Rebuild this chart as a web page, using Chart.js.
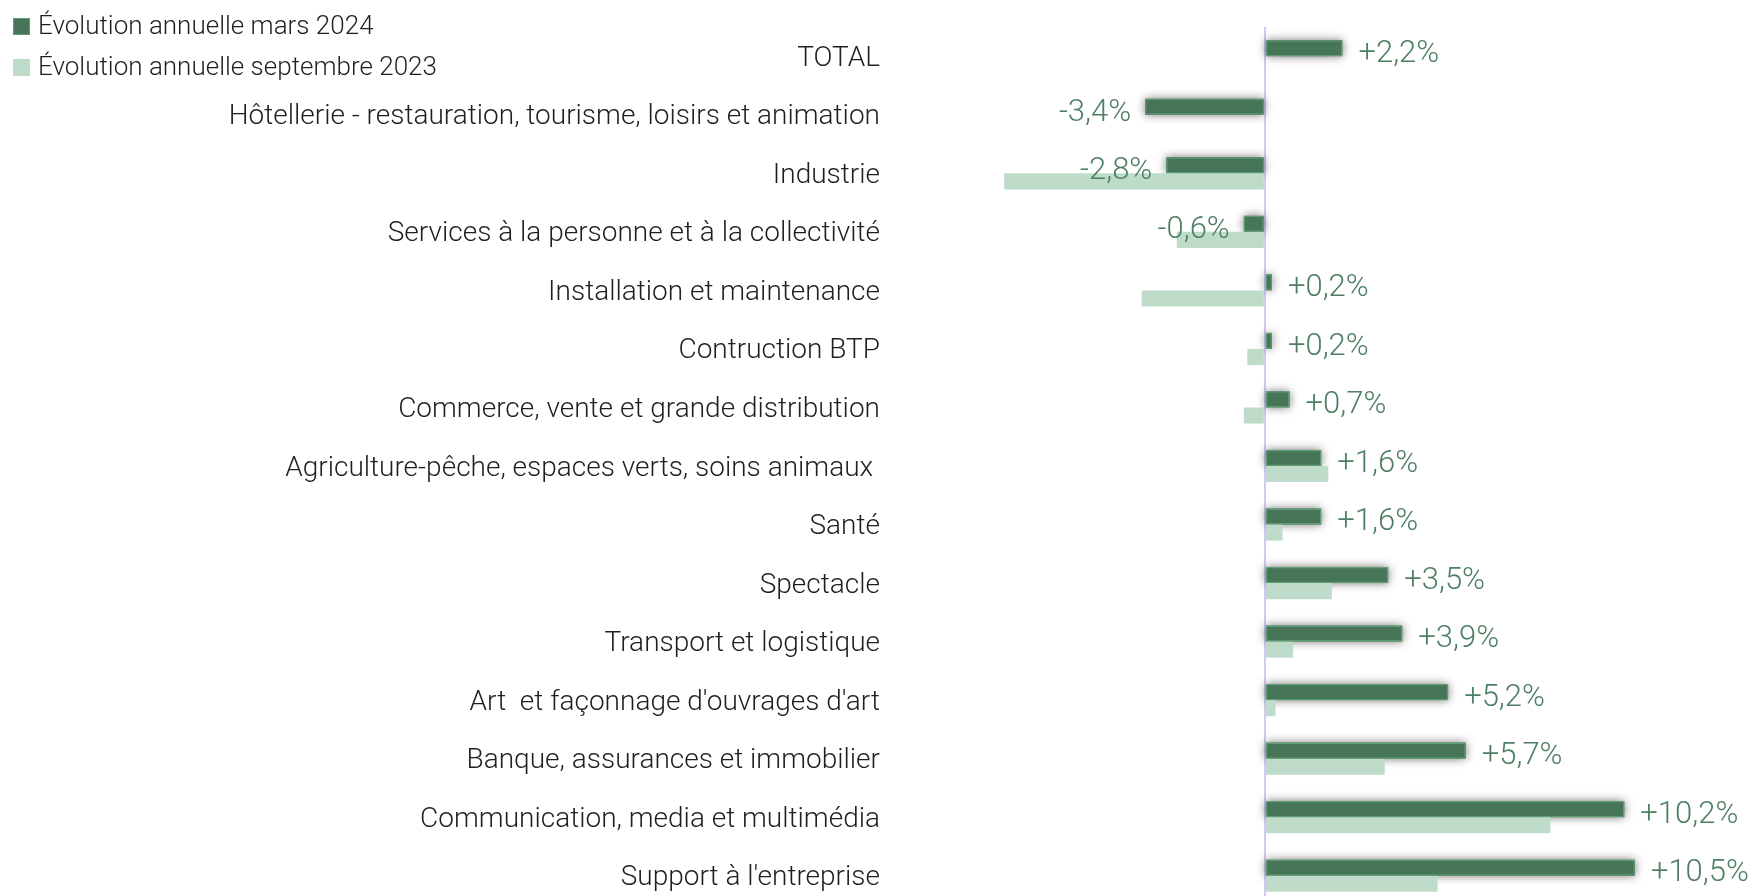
<!DOCTYPE html>
<html><head><meta charset="utf-8">
<script src="https://cdn.jsdelivr.net/npm/chart.js@4.4.1/dist/chart.umd.min.js"></script>
<style>
html,body{margin:0;padding:0;background:#fff;overflow:hidden;width:1752px;height:896px}
#wrap{position:relative;width:1752px;height:905px}
canvas{display:block}
.lg{position:absolute;left:13px;font-family:Roboto,sans-serif;font-weight:300;font-size:26px;color:#1f1f1f;line-height:30px;white-space:nowrap}
.lg span{display:inline-block;width:17px;height:17px;margin-right:8px;vertical-align:-1px;box-sizing:border-box}
</style></head><body>
<div id="wrap"><canvas id="c" width="1752" height="905"></canvas>
<div class="lg" id="lg1" style="top:10px"><span style="background:#467558;border:1.5px solid #5e9c74"></span>Évolution annuelle mars 2024</div>
<div class="lg" id="lg2" style="top:51px"><span style="background:#bfdccb"></span>Évolution annuelle septembre 2023</div>
</div>
<script>
const categories = [
  "TOTAL",
  "Hôtellerie - restauration, tourisme, loisirs et animation",
  "Industrie",
  "Services à la personne et à la collectivité",
  "Installation et maintenance",
  "Contruction BTP",
  "Commerce, vente et grande distribution",
  "Agriculture-pêche, espaces verts, soins animaux ",
  "Santé",
  "Spectacle",
  "Transport et logistique",
  "Art  et façonnage d'ouvrages d'art",
  "Banque, assurances et immobilier",
  "Communication, media et multimédia",
  "Support à l'entreprise"
];
const seriesNames = ["Évolution annuelle mars 2024", "Évolution annuelle septembre 2023"];
const mars2024 = [2.2, -3.4, -2.8, -0.6, 0.2, 0.2, 0.7, 1.6, 1.6, 3.5, 3.9, 5.2, 5.7, 10.2, 10.5];
const sept2023 = [null, null, -7.4, -2.5, -3.5, -0.5, -0.6, 1.8, 0.5, 1.9, 0.8, 0.3, 3.4, 8.1, 4.9];

const DARK = '#467558', DARK_BORDER = '#5e9c74', LIGHT = '#bfdccb', LABEL = '#4f7f63';

function fmt(v){ return (v > 0 ? '+' : '') + v.toFixed(1).replace('.', ',') + '%'; }

const shadowPlugin = {
  id: 'shadow',
  beforeDatasetsDraw(chart){
    const ctx = chart.ctx, meta = chart.getDatasetMeta(0);
    ctx.save();
    ctx.shadowColor = 'rgba(0,0,0,0.55)';
    ctx.shadowBlur = 10;
    ctx.fillStyle = DARK;
    meta.data.forEach(b => {
      const l = Math.min(b.x, b.base), w = Math.abs(b.x - b.base);
      ctx.fillRect(l, b.y - b.height/2, w, b.height);
    });
    ctx.restore();
  }
};
const labelPlugin = {
  id: 'vlabels',
  afterDatasetsDraw(chart){
    const ctx = chart.ctx, meta = chart.getDatasetMeta(0);
    ctx.save();
    ctx.font = '300 31px Roboto, sans-serif';
    ctx.fillStyle = LABEL;
    ctx.textBaseline = 'middle';
    meta.data.forEach((b, i) => {
      const v = mars2024[i];
      if (v >= 0) { ctx.textAlign = 'left'; ctx.fillText(fmt(v), b.x + 16, b.y + 6); }
      else { ctx.textAlign = 'right'; ctx.fillText(fmt(v), b.x - 14, b.y + 6); }
    });
    ctx.restore();
  }
};

new Chart(document.getElementById('c'), {
  type: 'bar',
  data: {
    labels: categories,
    datasets: [
      { label: seriesNames[0], data: mars2024, backgroundColor: DARK, borderColor: DARK_BORDER, borderWidth: 1.5, borderSkipped: false },
      { label: seriesNames[1], data: sept2023, backgroundColor: LIGHT, borderWidth: 0 }
    ]
  },
  options: {
    indexAxis: 'y',
    responsive: false,
    devicePixelRatio: 1,
    animation: false,
    layout: { padding: { top: 27, bottom: 0, left: 0, right: 29 } },
    categoryPercentage: 0.55,
    barPercentage: 1,
    plugins: { legend: { display: false }, tooltip: { enabled: false } },
    scales: {
      x: {
        min: -8, max: 13,
        ticks: { display: false },
        border: { display: false },
        grid: { drawTicks: false, lineWidth: 2, color: c => c.tick && c.tick.value === 0 ? '#d4c8f7' : 'rgba(0,0,0,0)' }
      },
      y: {
        afterFit(s){ s.width = 983; s.paddingTop = 0; s.paddingBottom = 0; },
        border: { display: false },
        grid: { display: false, drawTicks: false },
        ticks: { padding: 103, labelOffset: 2.5, color: '#1f1f1f', font: { family: 'Roboto, sans-serif', size: 28, weight: 300 } }
      }
    }
  },
  plugins: [shadowPlugin, labelPlugin]
});
</script>
</body></html>
